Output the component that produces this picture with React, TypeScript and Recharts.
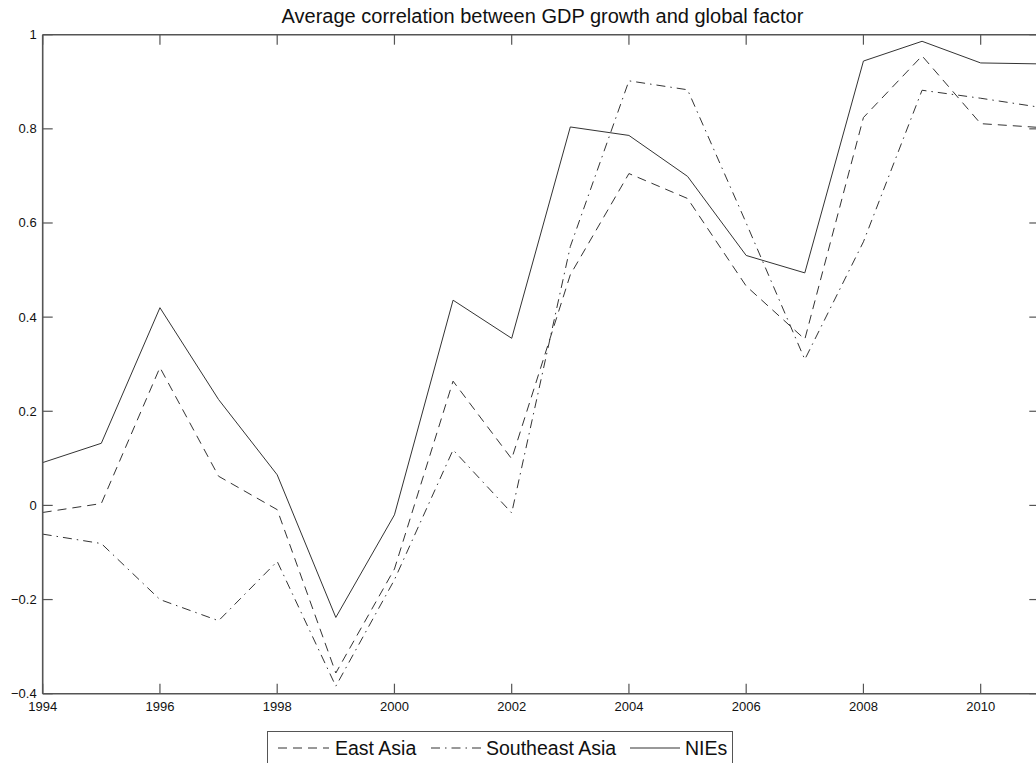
import React from 'react';
import { LineChart, Line, XAxis, YAxis, Legend } from 'recharts';

const years = [1994, 1995, 1996, 1997, 1998, 1999, 2000, 2001, 2002, 2003, 2004, 2005, 2006, 2007, 2008, 2009, 2010, 2011];
const eastAsia = [-0.015, 0.004, 0.293, 0.062, -0.009, -0.356, -0.135, 0.264, 0.099, 0.49, 0.705, 0.652, 0.466, 0.353, 0.824, 0.955, 0.811, 0.803];
const southeastAsia = [-0.061, -0.081, -0.2, -0.245, -0.119, -0.384, -0.158, 0.118, -0.016, 0.55, 0.902, 0.883, 0.6, 0.31, 0.56, 0.882, 0.865, 0.846];
const nies = [0.091, 0.132, 0.42, 0.225, 0.065, -0.238, -0.02, 0.436, 0.355, 0.804, 0.786, 0.699, 0.531, 0.494, 0.944, 0.986, 0.94, 0.938];
const xTicks = [1994, 1996, 1998, 2000, 2002, 2004, 2006, 2008, 2010];
const yTicks = [-0.4, -0.2, 0, 0.2, 0.4, 0.6, 0.8, 1];
const seriesNames = ['East Asia', 'Southeast Asia', 'NIEs'];
const title = 'Average correlation between GDP growth and global factor';

const data = years.map((y, i) => ({ year: y, ea: eastAsia[i], sea: southeastAsia[i], nies: nies[i] }));

const FONT = '"Liberation Sans", Arial, Helvetica, sans-serif';
const INK = '#333';
const FRAME = '#555';
const TICK = '#555';
const DASH = '9 6';
const DASHDOT = '9 5 1.5 5';

const fmtY = (v: number) => {
  const r = Math.round(v * 10) / 10;
  if (r === 0) return '0';
  const s = Math.abs(r).toString();
  return r < 0 ? '\u2212' + s : s;
};

const BottomTick = (props: any) => {
  const { x, y, payload } = props;
  return (
    <g>
      <path d={`M${x},${y}L${x},${y - 10}`} stroke={TICK} strokeWidth={1.2} fill="none" />
      <text x={x} y={y + 17} textAnchor="middle" fontSize={13} fontFamily={FONT} fill="#111">{payload.value}</text>
    </g>
  );
};
const TopTick = (props: any) => {
  const { x, y } = props;
  return <path d={`M${x},${y}L${x},${y + 10}`} stroke={TICK} strokeWidth={1.2} fill="none" />;
};
const LeftTick = (props: any) => {
  const { x, y, payload } = props;
  return (
    <g>
      <path d={`M${x},${y}L${x + 10},${y}`} stroke={TICK} strokeWidth={1.2} fill="none" />
      <text x={x - 6} y={y + 4.5} textAnchor="end" fontSize={13} fontFamily={FONT} fill="#111">{fmtY(payload.value)}</text>
    </g>
  );
};
const RightTick = (props: any) => {
  const { x, y } = props;
  return <path d={`M${x},${y}L${x - 10},${y}`} stroke={TICK} strokeWidth={1.2} fill="none" />;
};

const LegendBox = () => {
  const items = [
    { name: seriesNames[0], dash: DASH, x1: 10, x2: 61, tx: 67 },
    { name: seriesNames[1], dash: DASHDOT, x1: 163, x2: 215, tx: 218 },
    { name: seriesNames[2], dash: undefined, x1: 362, x2: 412, tx: 417 },
  ];
  return (
    <svg width={466} height={40} style={{ display: 'block', background: '#fff', border: `1.5px solid ${FRAME}`, boxSizing: 'border-box' }}>
      {items.map((it) => (
        <g key={it.name}>
          <line x1={it.x1} x2={it.x2} y1={16} y2={16} stroke={INK} strokeWidth={1} strokeDasharray={it.dash} />
          <text x={it.tx} y={23} fontSize={19.5} fontFamily={FONT} fill="#111">{it.name}</text>
        </g>
      ))}
    </svg>
  );
};

export default function App() {
  return (
    <div style={{ position: 'absolute', left: 0, top: 0, width: 1036, height: 763, overflow: 'hidden', background: '#fff' }}>
      <svg width={1036} height={30} style={{ display: 'block', position: 'absolute', left: 0, top: 0 }}>
        <text x={542.5} y={23} textAnchor="middle" fontSize={20} fontFamily={FONT} fill="#111">{title}</text>
      </svg>
      <LineChart
        width={1046}
        height={763}
        data={data}
        margin={{ top: 33.7, right: 5.7, left: 0, bottom: 49.3 }}
        style={{ position: 'absolute', left: 0, top: 0 }}
      >
        <XAxis xAxisId="b" dataKey="year" type="number" domain={[1994, 2011]} ticks={xTicks} orientation="bottom" height={20}
          tickSize={0} tickMargin={0} tickLine={false} axisLine={{ stroke: FRAME, strokeWidth: 1.6 }} tick={BottomTick} interval={0} allowDataOverflow />
        <XAxis xAxisId="t" dataKey="year" type="number" domain={[1994, 2011]} ticks={xTicks} orientation="top" height={1}
          tickSize={0} tickMargin={0} tickLine={false} axisLine={{ stroke: FRAME, strokeWidth: 1.6 }} tick={TopTick} interval={0} allowDataOverflow />
        <YAxis yAxisId="l" type="number" domain={[-0.4, 1]} ticks={yTicks} orientation="left" width={42.7}
          tickSize={0} tickMargin={0} tickLine={false} axisLine={{ stroke: FRAME, strokeWidth: 1.6 }} tick={LeftTick} interval={0} allowDataOverflow />
        <YAxis yAxisId="r" type="number" domain={[-0.4, 1]} ticks={yTicks} orientation="right" width={1}
          tickSize={0} tickMargin={0} tickLine={false} axisLine={{ stroke: FRAME, strokeWidth: 1.6 }} tick={RightTick} interval={0} allowDataOverflow />
        <Line xAxisId="b" yAxisId="l" type="linear" dataKey="ea" name={seriesNames[0]} stroke={INK} strokeWidth={1} strokeDasharray={DASH} dot={false} activeDot={false} isAnimationActive={false} />
        <Line xAxisId="b" yAxisId="l" type="linear" dataKey="sea" name={seriesNames[1]} stroke={INK} strokeWidth={1} strokeDasharray={DASHDOT} dot={false} activeDot={false} isAnimationActive={false} />
        <Line xAxisId="b" yAxisId="l" type="linear" dataKey="nies" name={seriesNames[2]} stroke={INK} strokeWidth={1} dot={false} activeDot={false} isAnimationActive={false} />
        <Legend layout="horizontal" verticalAlign="middle" align="center" content={() => <LegendBox />}
          wrapperStyle={{ left: 266.7, top: 730.7, width: 466, height: 40, margin: 0, padding: 0 }} />
      </LineChart>
    </div>
  );
}
